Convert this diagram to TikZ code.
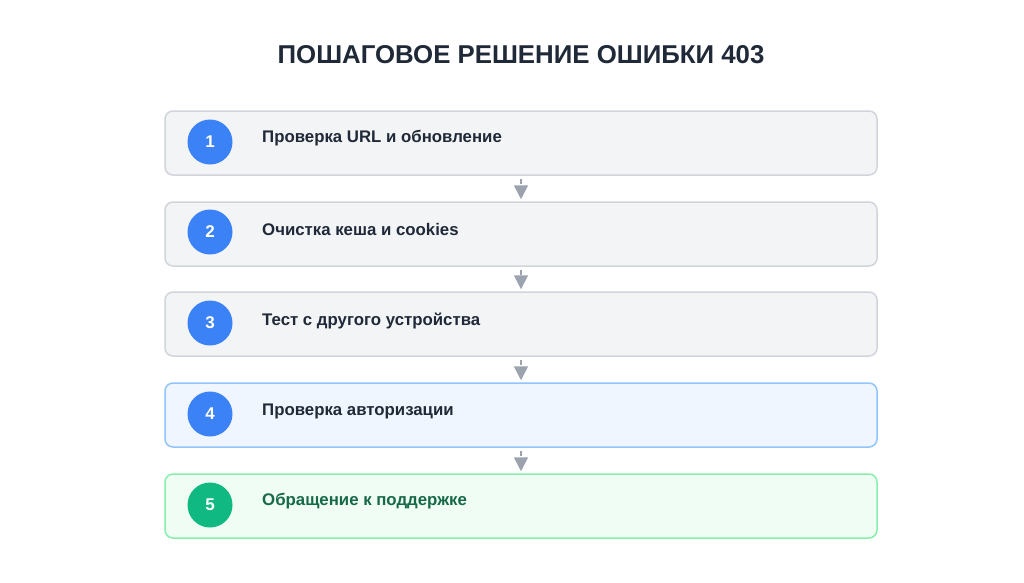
\documentclass[tikz,border=0pt]{standalone}
\usepackage{fontspec}
\setmainfont{Liberation Sans}
\usetikzlibrary{arrows.meta}
\definecolor{grayfill}{HTML}{F3F4F6}
\definecolor{grayline}{HTML}{D1D5DB}
\definecolor{bluefill}{HTML}{EFF6FF}
\definecolor{blueline}{HTML}{93C5FD}
\definecolor{greenfill}{HTML}{F0FDF4}
\definecolor{greenline}{HTML}{86EFAC}
\definecolor{bluecirc}{HTML}{3B82F6}
\definecolor{greencirc}{HTML}{10B981}
\definecolor{darktext}{HTML}{1F2937}
\definecolor{greentext}{HTML}{17694A}
\definecolor{arrowgray}{HTML}{9CA3AF}
\begin{document}
\begin{tikzpicture}[x=1pt,y=-1pt,
  stepbox/.style={draw=grayline,fill=grayfill,line width=1.5pt,rounded corners=8pt,minimum width=712pt,minimum height=64pt,inner sep=0pt},
  bluebox/.style={stepbox,draw=blueline,fill=bluefill},
  greenbox/.style={stepbox,draw=greenline,fill=greenfill},
  numcirc/.style={circle,fill=bluecirc,minimum size=45pt,inner sep=0pt,text=white,font=\bfseries\fontsize{17}{20}\selectfont},
  greencircle/.style={numcirc,fill=greencirc},
  steplabel/.style={anchor=west,inner sep=0pt,text=darktext,font=\bfseries\fontsize{16.8}{20}\selectfont},
  flowarrow/.style={draw=arrowgray,line width=1.5pt,dash pattern=on 5pt off 3pt,shorten <=3pt,shorten >=2pt,-{Triangle[width=14pt,length=14pt,sep=0pt]}}
]
\useasboundingbox (0,0) rectangle (1024,582);
\fill[white] (0,0) rectangle (1024,582);
\node[text=darktext,font=\bfseries\fontsize{25.8}{30}\selectfont] (title) at (521,55) {ПОШАГОВОЕ РЕШЕНИЕ ОШИБКИ 403};

\node[stepbox] (b1) at (521,143) {};
\node[stepbox] (b2) at (521,234) {};
\node[stepbox] (b3) at (521,324) {};
\node[bluebox] (b4) at (521,415) {};
\node[greenbox] (b5) at (521,506) {};

\node[numcirc] (c1) at (210,142) {1};
\node[numcirc] (c2) at (210,232) {2};
\node[numcirc] (c3) at (210,323) {3};
\node[numcirc] (c4) at (210,414) {4};
\node[greencircle] (c5) at (210,505) {5};

\node[steplabel] (t1) at (262,138.5) {Проверка URL и обновление};
\node[steplabel] (t2) at (262,229.5) {Очистка кеша и cookies};
\node[steplabel] (t3) at (262,320.5) {Тест с другого устройства};
\node[steplabel] (t4) at (262,411.5) {Проверка авторизации};
\node[steplabel,text=greentext] (t5) at (262,501.5) {Обращение к поддержке};

\draw[flowarrow] (b1.south) -- (b2.north);
\draw[flowarrow] (b2.south) -- (b3.north);
\draw[flowarrow] (b3.south) -- (b4.north);
\draw[flowarrow] (b4.south) -- (b5.north);
\end{tikzpicture}
\end{document}
